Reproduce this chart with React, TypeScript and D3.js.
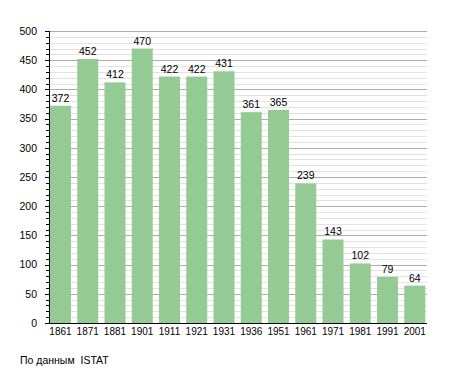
import React from 'react';
import * as d3 from 'd3';

const years = ['1861', '1871', '1881', '1901', '1911', '1921', '1931', '1936', '1951', '1961', '1971', '1981', '1991', '2001'];
const population = [372, 452, 412, 470, 422, 422, 431, 361, 365, 239, 143, 102, 79, 64];
const majorTicks = [0, 50, 100, 150, 200, 250, 300, 350, 400, 450, 500];
const sourceNote = 'По данным  ISTAT';

const width = 455;
const height = 373;
const margin = { left: 50, right: 29, top: 31, bottom: 50 };
const font = '"Liberation Sans", Arial, sans-serif';

export default function App() {
  const x = d3.scaleBand<string>()
    .domain(years)
    .range([margin.left, width - margin.right - 0.75])
    .paddingInner(0.23)
    .paddingOuter(0);

  const y = d3.scaleLinear()
    .domain([0, 500])
    .range([height - margin.bottom, margin.top]);

  const minorTicks = d3.range(0, 501, 10).filter(v => v % 50 !== 0);
  const x0 = margin.left;
  const x1 = width - margin.right + 1;

  return (
    <svg width={width} height={height} style={{ position: 'absolute', left: 0, top: 0 }} fontFamily={font}>
      <rect width={width} height={height} fill="#fff" />
      {/* grid */}
      {minorTicks.map(v => (
        <line key={'m' + v} x1={x0} x2={x1} y1={Math.round(y(v)) + 0.5} y2={Math.round(y(v)) + 0.5} stroke="#e2e2e2" />
      ))}
      {majorTicks.map(v => (
        <line key={'M' + v} x1={x0} x2={x1} y1={Math.round(y(v)) + 0.5} y2={Math.round(y(v)) + 0.5} stroke="#acacac" />
      ))}
      {/* bars */}
      {population.map((d, i) => (
        <rect key={years[i]} x={x(years[i])} y={y(d)} width={x.bandwidth()} height={y(0) - y(d)} fill="#94cb94" />
      ))}
      {/* value labels */}
      {population.map((d, i) => (
        <text key={'v' + i} x={(x(years[i]) as number) + x.bandwidth() / 2} y={y(d) - 4} fontSize={10.5} textAnchor="middle" fill="#000">{d}</text>
      ))}
      {/* y axis */}
      <line x1={x0 - 0.5} x2={x0 - 0.5} y1={y(500)} y2={y(0) + 1} stroke="#000" />
      {minorTicks.map(v => (
        <line key={'mt' + v} x1={x0 - 4} x2={x0} y1={Math.round(y(v)) + 0.5} y2={Math.round(y(v)) + 0.5} stroke="#000" />
      ))}
      {majorTicks.map(v => (
        <line key={'Mt' + v} x1={x0 - 5} x2={x0} y1={Math.round(y(v)) + 0.5} y2={Math.round(y(v)) + 0.5} stroke="#000" />
      ))}
      {majorTicks.map(v => (
        <text key={'yl' + v} x={37} y={y(v)} dy="0.36em" fontSize={10.5} textAnchor="end" fill="#000">{v}</text>
      ))}
      {/* x axis */}
      <line x1={x0 - 1} x2={x1} y1={Math.round(y(0)) + 0.5} y2={Math.round(y(0)) + 0.5} stroke="#000" />
      {years.map(yr => (
        <text key={'xl' + yr} x={(x(yr) as number) + x.bandwidth() / 2} y={y(0) + 12} fontSize={10} textAnchor="middle" fill="#000">{yr}</text>
      ))}
      <text x={20} y={364} fontSize={10.5} fill="#000" style={{ whiteSpace: 'pre' }}>{sourceNote}</text>
    </svg>
  );
}
